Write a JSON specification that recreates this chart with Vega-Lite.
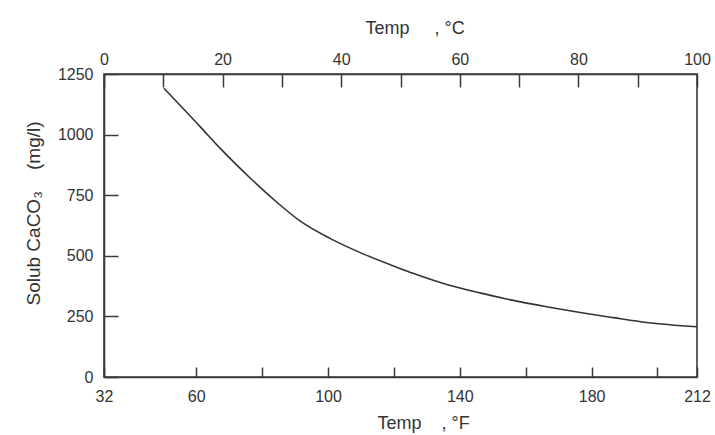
{
  "$schema": "https://vega.github.io/schema/vega-lite/v6.json",
  "width": 593,
  "height": 303,
  "autosize": {"type": "none"},
  "padding": {"left": 104, "top": 74, "right": 18, "bottom": 58},
  "background": "white",
  "config": {
    "view": {"stroke": "#3a3a3a", "strokeWidth": 1.6},
    "font": "Liberation Sans",
    "axis": {"grid": false, "domainColor": "#3a3a3a", "domainWidth": 1.6, "tickColor": "#3a3a3a", "tickWidth": 1.5, "labelColor": "#333", "titleColor": "#333", "labelFont": "Liberation Sans", "titleFont": "Liberation Sans", "labelFontSize": 16, "titleFontSize": 18, "titleFontWeight": "normal"}
  },
  "data": {"values": [
    {"tempC": 10.1, "solub": 1191},
    {"tempC": 16.2, "solub": 1033},
    {"tempC": 19.6, "solub": 943},
    {"tempC": 24.6, "solub": 822},
    {"tempC": 29.1, "solub": 722},
    {"tempC": 33.1, "solub": 643},
    {"tempC": 38.1, "solub": 572},
    {"tempC": 43.7, "solub": 508},
    {"tempC": 49.9, "solub": 448},
    {"tempC": 52.1, "solub": 428},
    {"tempC": 57.8, "solub": 382},
    {"tempC": 63.4, "solub": 347},
    {"tempC": 69.0, "solub": 316},
    {"tempC": 74.6, "solub": 290},
    {"tempC": 80.3, "solub": 266},
    {"tempC": 85.9, "solub": 245},
    {"tempC": 91.5, "solub": 225},
    {"tempC": 100, "solub": 207}
  ]},
  "layer": [
    {
      "mark": {"type": "line", "color": "#333", "strokeWidth": 1.6, "interpolate": "monotone", "clip": true},
      "encoding": {
        "x": {"field": "tempC", "type": "quantitative", "scale": {"domain": [0, 100], "nice": false},
          "axis": {"orient": "top", "values": [0,10,20,30,40,50,60,70,80,90,100], "labelExpr": "datum.value % 20 == 0 ? datum.label : ''", "tickSize": -13, "labelPadding": 20, "labelFlush": false,
            "title": "Temp\u00a0\u00a0\u00a0\u00a0\u00a0, °C", "titleX": 261, "titleY": -41, "titleAlign": "left", "titleBaseline": "alphabetic", "titleAnchor": null}},
        "y": {"field": "solub", "type": "quantitative", "scale": {"domain": [0, 1250], "nice": false},
          "axis": {"values": [0, 250, 500, 750, 1000, 1250], "format": "d", "tickSize": -14, "labelPadding": 25, "labelFlush": false,
            "title": "Solub CaCO₃\u00a0\u00a0\u00a0\u00a0(mg/l)", "titleFontSize": 19, "titleX": -71, "titleY": 139, "titleAngle": -90, "titleAlign": "center", "titleBaseline": "middle", "titleAnchor": null}}
      }
    },
    {
      "mark": {"type": "point", "opacity": 0},
      "encoding": {
        "x": {"field": "tempC", "type": "quantitative",
          "axis": {"orient": "bottom", "values": [0, 15.5556, 26.6667, 37.7778, 48.8889, 60, 71.1111, 82.2222, 93.3333, 100], "labelExpr": "indexof([32,60,100,140,180,212], round(datum.value*1.8+32)) >= 0 ? format(round(datum.value*1.8+32), 'd') : ''", "tickSize": -10, "labelPadding": 21, "labelFlush": false,
            "title": "Temp\u00a0\u00a0\u00a0\u00a0, °F", "titleX": 273, "titleY": 51, "titleAlign": "left", "titleBaseline": "alphabetic", "titleAnchor": null}},
        "y": {"field": "solub", "type": "quantitative", "axis": null}
      }
    }
  ],
  "resolve": {"axis": {"x": "independent", "y": "independent"}}
}
